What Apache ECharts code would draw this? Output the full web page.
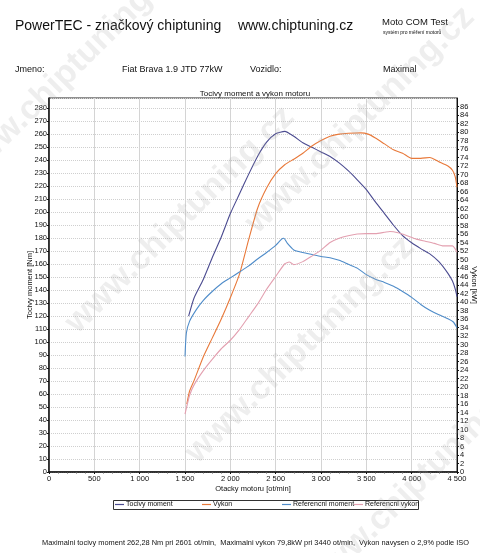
<!DOCTYPE html>
<html>
<head>
<meta charset="utf-8">
<script src="https://cdn.jsdelivr.net/npm/echarts@6/dist/echarts.min.js"></script>
<style>
  html, body { margin: 0; padding: 0; background: #fff; }
  #main { width: 480px; height: 553px; }
</style>
</head>
<body>
<div id="main"></div>
<script>
// data read from the dyno sheet
var torqueRpm = [1540, 1600, 1700, 1800, 1900, 2000, 2100, 2200, 2300, 2400, 2500, 2601, 2700, 2800, 2900, 3000, 3100, 3200, 3300, 3400, 3500, 3600, 3700, 3800, 3900, 4000, 4100, 4200, 4300, 4400, 4450, 4480, 4500];
var torqueNm = [120, 134, 148, 165, 181, 199, 214, 229, 243, 254, 260.5, 262.3, 258.5, 253.5, 250, 246.5, 243, 238, 232, 225, 217.5, 208, 199, 190, 182, 176.5, 172, 168, 162, 153, 147, 141, 135];

var powerRpm = [1520, 1550, 1600, 1700, 1800, 1900, 2000, 2100, 2200, 2300, 2400, 2500, 2600, 2700, 2800, 2900, 3000, 3100, 3200, 3300, 3440, 3520, 3600, 3700, 3800, 3900, 4000, 4100, 4200, 4300, 4400, 4450, 4480, 4500];
var powerKw = [16, 19, 21.5, 27, 31.5, 36, 41, 46.5, 54.5, 62, 66.8, 70.2, 72.3, 73.6, 75, 76.7, 78, 79, 79.5, 79.7, 79.8, 79.5, 78.6, 77.2, 75.8, 75, 73.8, 73.8, 74, 73, 72, 71, 69.5, 67];

var refTorqueRpm = [1500, 1515, 1550, 1625, 1700, 1800, 1900, 2000, 2100, 2200, 2300, 2400, 2500, 2560, 2590, 2630, 2700, 2800, 2900, 3000, 3100, 3200, 3300, 3400, 3500, 3600, 3700, 3800, 3900, 4000, 4100, 4200, 4300, 4400, 4460, 4500];
var refTorqueNm = [89, 107, 116, 125, 132, 139, 145, 149.5, 154, 158.5, 164, 169, 174.5, 179, 180, 176, 171, 169, 167.5, 166, 165, 163, 160, 157, 152, 148.5, 146, 143, 139, 134.5, 129, 124.5, 121, 118, 115.5, 111];

var refPowerRpm = [1500, 1550, 1600, 1700, 1800, 1900, 2000, 2100, 2200, 2300, 2400, 2500, 2600, 2650, 2700, 2800, 2900, 3000, 3100, 3200, 3300, 3400, 3500, 3600, 3700, 3760, 3850, 3950, 4050, 4150, 4250, 4350, 4450, 4480, 4500];
var refPowerKw = [13.6, 18, 20.5, 23.8, 26.5, 29, 31, 33.5, 36.5, 39.5, 43, 46, 49, 49.4, 48.8, 49.5, 50.8, 52.2, 54, 55, 55.6, 56, 56.1, 56.1, 56.4, 56.6, 56.3, 55.6, 54.8, 54.3, 53.8, 53.2, 53.2, 52.5, 51.7];

var seriesNames = ['Tocivy moment', 'Vykon', 'Referencni moment', 'Referencni vykon'];
var colors = ['#4b4b90', '#e8793a', '#4f8cc9', '#e3a0b0'];

function pairs(xs, ys) {
  var out = [];
  for (var i = 0; i < xs.length; i++) out.push([xs[i], ys[i]]);
  return out;
}

var FONT = '"Liberation Sans", Arial, sans-serif';

var myChart = echarts.init(document.getElementById('main'));

// watermark
var marks = [];
var markPos = [[70, 70], [180, 220], [300, 350], [420, 480], [360, 120]];
markPos.forEach(function (p) {
  marks.push({
    type: 'text', x: p[0], y: p[1], rotation: 0.78, z: 100, silent: true,
    style: { text: 'www.chiptuning.cz', font: 'bold 34px ' + FONT, fill: 'rgba(170,170,170,0.2)', align: 'center', verticalAlign: 'middle' }
  });
});

var texts = [
  { left: 15, top: 19, text: 'PowerTEC - značkový chiptuning', size: 14 },
  { left: 238, top: 19, text: 'www.chiptuning.cz', size: 14 },
  { left: 382, top: 17, text: 'Moto COM Test', size: 9.5 },
  { left: 383, top: 30, text: 'systém pro měření motorů', size: 5 },
  { left: 15, top: 65, text: 'Jmeno:', size: 9 },
  { left: 122, top: 65, text: 'Fiat Brava 1.9 JTD 77kW', size: 9 },
  { left: 250, top: 65, text: 'Vozidlo:', size: 9 },
  { left: 383, top: 65, text: 'Maximal', size: 9 },
  { left: 42, top: 539, text: 'Maximalni tocivy moment 262,28 Nm pri 2601 ot/min,  Maximalni vykon 79,8kW pri 3440 ot/min,  Vykon navysen o 2,9% podle ISO', size: 7.4 }
];
var graphics = texts.map(function (t) {
  return { type: 'text', left: t.left, top: t.top, style: { text: t.text, font: t.size + 'px ' + FONT, fill: '#111' } };
});
graphics.push({ type: 'rect', shape: { x: 113.5, y: 500.5, width: 305, height: 9 }, style: { fill: 'none', stroke: '#333', lineWidth: 1 } });
graphics = graphics.concat(marks);

var legendLeft = [115, 202, 282, 354];
var legends = seriesNames.map(function (n, i) {
  return {
    data: [n], left: legendLeft[i], top: 501, padding: 0, icon: 'rect',
    itemWidth: 9, itemHeight: 1.2, itemGap: 0, selectedMode: false,
    textStyle: { fontSize: 7, fontFamily: FONT, color: '#111', padding: [0, 0, 0, -3] }
  };
});

var option = {
  color: colors,
  animation: false,
  textStyle: { fontFamily: FONT },
  title: {
    text: 'Tocivy moment a vykon motoru', left: 250, top: 85, textAlign: 'center',
    textStyle: { fontSize: 8, fontWeight: 'normal', color: '#111', fontFamily: FONT }
  },
  legend: legends,
  graphic: graphics,
  grid: { left: 49, right: 23, top: 98, bottom: 81, show: true, borderColor: '#222', borderWidth: 1, outerBoundsMode: 'none', containLabel: false },
  xAxis: {
    type: 'value', min: 0, max: 4500, interval: 500,
    name: 'Otacky motoru [ot/min]', nameLocation: 'middle', nameGap: 13, nameMoveOverlap: false,
    nameTextStyle: { fontSize: 7.5, color: '#111' },
    axisLine: { lineStyle: { color: '#111', width: 1.5 } },
    axisTick: { show: true, length: 2, lineStyle: { color: '#111' } },
    minorTick: { show: true, splitNumber: 5, length: 1.5, lineStyle: { color: '#555' } },
    axisLabel: {
      fontSize: 7.5, color: '#111', margin: 3,
      formatter: function (v) { return v >= 1000 ? Math.floor(v / 1000) + ' ' + ('00' + (v % 1000)).slice(-3) : String(v); }
    },
    splitLine: { show: true, lineStyle: { color: '#d4d4d4', width: 1 } }
  },
  yAxis: [
    {
      type: 'value', min: 0, max: 288, interval: 10,
      name: 'Tocivy moment [Nm]', nameLocation: 'middle', nameGap: 15, nameMoveOverlap: false,
      nameTextStyle: { fontSize: 7.5, color: '#111' },
      axisLine: { show: true, lineStyle: { color: '#111', width: 1.5 } },
      axisTick: { show: true, length: 2, lineStyle: { color: '#111' } },
      axisLabel: { fontSize: 7.5, color: '#111', margin: 2, showMaxLabel: false },
      splitLine: { show: true, lineStyle: { color: '#cfcfcf', type: 'dotted', width: 1 } }
    },
    {
      type: 'value', min: 0, max: 88, interval: 2, position: 'right',
      name: 'Vykon [kW]', nameLocation: 'middle', nameGap: 13, nameRotate: -90, nameMoveOverlap: false,
      nameTextStyle: { fontSize: 7.5, color: '#111' },
      axisLine: { show: true, lineStyle: { color: '#111', width: 1 } },
      axisTick: { show: true, length: 2, lineStyle: { color: '#111' } },
      axisLabel: { fontSize: 7.5, color: '#111', margin: 3, showMaxLabel: false },
      splitLine: { show: false }
    }
  ],
  series: [
    { name: seriesNames[0], type: 'line', yAxisIndex: 0, showSymbol: false, smooth: 0.2, lineStyle: { width: 1.1 }, data: pairs(torqueRpm, torqueNm) },
    { name: seriesNames[1], type: 'line', yAxisIndex: 1, showSymbol: false, smooth: 0.2, lineStyle: { width: 1.1 }, data: pairs(powerRpm, powerKw) },
    { name: seriesNames[2], type: 'line', yAxisIndex: 0, showSymbol: false, smooth: 0.2, lineStyle: { width: 1.1 }, data: pairs(refTorqueRpm, refTorqueNm) },
    { name: seriesNames[3], type: 'line', yAxisIndex: 1, showSymbol: false, smooth: 0.2, lineStyle: { width: 1.1 }, data: pairs(refPowerRpm, refPowerKw) }
  ]
};
myChart.setOption(option);
</script>
</body>
</html>
